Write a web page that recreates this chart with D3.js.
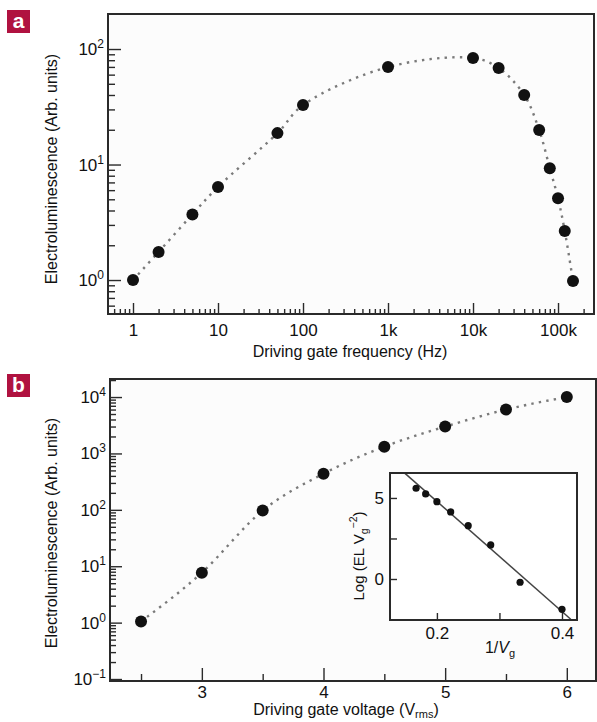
<!DOCTYPE html>
<html>
<head>
<meta charset="utf-8">
<script src="https://cdn.jsdelivr.net/npm/d3@7"></script>
<style>
  body { margin: 0; background: #fff; }
  svg { display: block; font-family: "Liberation Sans Narrow", "Arial Narrow", "Liberation Sans", Arial, sans-serif; }
</style>
</head>
<body>
<div id="chart"></div>
<script>
// ---- data ----
// panel a: EL vs driving frequency
const freqHz = [1, 2, 5, 10, 50, 100, 1000, 10000, 20000, 40000, 60000, 80000, 100000, 120000, 150000];
const elFreq = [1.0, 1.75, 3.7, 6.4, 18.7, 32.7, 69.8, 83.6, 68.5, 40, 19.9, 9.3, 5.1, 2.66, 0.98];
const freqTicks = [1, 10, 100, 1000, 10000, 100000];
const freqTickLabels = ["1", "10", "100", "1k", "10k", "100k"];
const elFreqExp = [0, 1, 2];

// panel b: EL vs driving voltage
const voltage = [2.5, 3, 3.5, 4, 4.5, 5, 5.5, 6];
const elVolt = [1.05, 7.7, 97, 437, 1320, 2990, 6000, 10000];
const voltTicks = [3, 4, 5, 6];
const voltMinor = [2.5, 3.5, 4.5, 5.5];
const elVoltExp = [-1, 0, 1, 2, 3, 4];

// inset: log(EL Vg^-2) vs 1/Vg
const invV = [0.1667, 0.182, 0.2, 0.222, 0.25, 0.286, 0.333, 0.4];
const logELV = [5.6, 5.25, 4.77, 4.14, 3.29, 2.1, -0.2, -1.87];
const fitX = [0.149, 0.414];
const fitY = [6.52, -2.48];
const insetXTicks = [0.2, 0.3, 0.4];
const insetXLabels = ["0.2", "", "0.4"];
const insetYTicks = [0, 2.5, 5];
const insetYLabels = ["0", "", "5"];

const W = 597, H = 722;
const ink = "#2a2a2a";
const tickFont = 17, titleFont = 16;
const svg = d3.select("#chart").append("svg").attr("width", W).attr("height", H);

// log minor ticks (2..9 x decade) inside a domain
function logMinors(domain) {
  const out = [];
  for (let e = Math.floor(Math.log10(domain[0])) - 1; e <= Math.ceil(Math.log10(domain[1])); e++) {
    for (let m = 2; m <= 9; m++) {
      const v = m * Math.pow(10, e);
      if (v > domain[0] * 1.01 && v < domain[1] * 0.99) out.push(v);
    }
  }
  return out;
}

function panelTag(y, letter) {
  svg.append("rect").attr("x", 7).attr("y", y).attr("width", 23).attr("height", 23).attr("fill", "#b01240");
  svg.append("text").attr("x", 18.5).attr("y", y + 17.5).attr("text-anchor", "middle")
    .attr("fill", "#fff").attr("font-weight", "bold").attr("font-size", 21).text(letter);
}

function styleTicks(g) {
  g.select(".domain").remove();
  g.selectAll(".tick line").attr("stroke", ink).attr("stroke-width", 1.4);
  g.selectAll(".tick text").attr("fill", "#111").attr("font-size", tickFont);
}

// y axis labels as 10^n
function powLabels(g, exps, scale, xRight) {
  exps.forEach(e => {
    const t = g.append("text").attr("x", xRight).attr("y", scale(Math.pow(10, e)) + 6)
      .attr("text-anchor", "end").attr("fill", "#111").attr("font-size", tickFont);
    t.append("tspan").text("10");
    t.append("tspan").attr("dy", -7).attr("font-size", 12).text(e < 0 ? "\u2212" + (-e) : e);
  });
}

function dotted(path) {
  path.attr("fill", "none").attr("stroke", "#7a7a7a").attr("stroke-width", 2.4)
    .attr("stroke-dasharray", "2.4 5.2");
}

// ================= panel a =================
{
  const L = 108, R = 594, T = 14, B = 314;
  const x = d3.scaleLog().domain([0.508, 2.65e5]).range([L, R]);
  const y = d3.scaleLog().domain([0.508, 201]).range([B, T]);

  svg.append("rect").attr("x", L).attr("y", T).attr("width", R - L).attr("height", B - T).attr("fill", "#fcfcfc");

  svg.append("path").datum(freqHz.map((f, i) => [f, elFreq[i]]))
    .attr("d", d3.line().x(d => x(d[0])).y(d => y(d[1])).curve(d3.curveCatmullRom.alpha(0.5)))
    .call(dotted);

  svg.append("g").selectAll("circle").data(freqHz.map((f, i) => [f, elFreq[i]])).join("circle")
    .attr("cx", d => x(d[0])).attr("cy", d => y(d[1])).attr("r", 6).attr("fill", "#111");

  svg.append("g").attr("transform", `translate(0,${B})`)
    .call(d3.axisBottom(x).tickValues(freqTicks).tickSize(-11).tickPadding(10)
      .tickFormat((d, i) => freqTickLabels[i]))
    .call(styleTicks);
  svg.append("g").attr("transform", `translate(0,${B})`)
    .call(d3.axisBottom(x).tickValues(logMinors(x.domain())).tickSize(-5).tickFormat(""))
    .call(styleTicks);

  svg.append("g").attr("transform", `translate(${L},0)`)
    .call(d3.axisLeft(y).tickValues(elFreqExp.map(e => Math.pow(10, e))).tickSize(-13).tickFormat(""))
    .call(styleTicks);
  svg.append("g").attr("transform", `translate(${L},0)`)
    .call(d3.axisLeft(y).tickValues(logMinors(y.domain())).tickSize(-7).tickFormat(""))
    .call(styleTicks);
  powLabels(svg.append("g"), elFreqExp, y, 104);

  svg.append("rect").attr("x", L).attr("y", T).attr("width", R - L).attr("height", B - T)
    .attr("fill", "none").attr("stroke", ink).attr("stroke-width", 2);

  svg.append("text").attr("x", 350).attr("y", 357).attr("text-anchor", "middle")
    .attr("font-size", titleFont).attr("fill", "#111").text("Driving gate frequency (Hz)");
  svg.append("text").attr("transform", "translate(57,169) rotate(-90)").attr("text-anchor", "middle")
    .attr("font-size", titleFont).attr("fill", "#111").text("Electroluminescence (Arb. units)");
  panelTag(10, "a");
}

// ================= panel b =================
{
  const L = 110, R = 596, T = 379, B = 681;
  const x = d3.scaleLinear().domain([2.245, 6.24]).range([L, R]);
  const y = d3.scaleLog().domain([Math.pow(10, -1.035), Math.pow(10, 4.32)]).range([B, T]);

  svg.append("rect").attr("x", L).attr("y", T).attr("width", R - L).attr("height", B - T).attr("fill", "#fcfcfc");

  svg.append("path").datum(voltage.map((v, i) => [v, elVolt[i]]))
    .attr("d", d3.line().x(d => x(d[0])).y(d => y(d[1])).curve(d3.curveMonotoneX))
    .call(dotted);

  svg.append("g").selectAll("circle").data(voltage.map((v, i) => [v, elVolt[i]])).join("circle")
    .attr("cx", d => x(d[0])).attr("cy", d => y(d[1])).attr("r", 6).attr("fill", "#111");

  svg.append("g").attr("transform", `translate(0,${B})`)
    .call(d3.axisBottom(x).tickValues(voltTicks).tickSize(-13).tickPadding(5).tickFormat(d3.format("d")))
    .call(styleTicks);
  svg.append("g").attr("transform", `translate(0,${B})`)
    .call(d3.axisBottom(x).tickValues(voltMinor).tickSize(-7).tickFormat(""))
    .call(styleTicks);

  svg.append("g").attr("transform", `translate(${L},0)`)
    .call(d3.axisLeft(y).tickValues(elVoltExp.map(e => Math.pow(10, e))).tickSize(-12).tickFormat(""))
    .call(styleTicks);
  svg.append("g").attr("transform", `translate(${L},0)`)
    .call(d3.axisLeft(y).tickValues(logMinors(y.domain())).tickSize(-6).tickFormat(""))
    .call(styleTicks);
  powLabels(svg.append("g"), elVoltExp, y, 106);

  svg.append("rect").attr("x", L).attr("y", T).attr("width", R - L).attr("height", B - T)
    .attr("fill", "none").attr("stroke", ink).attr("stroke-width", 2);

  const xl = svg.append("text").attr("x", 346).attr("y", 715).attr("text-anchor", "middle")
    .attr("font-size", titleFont).attr("fill", "#111");
  xl.append("tspan").text("Driving gate voltage (V");
  xl.append("tspan").attr("dy", 3).attr("font-size", 11).text("rms");
  xl.append("tspan").attr("dy", -3).text(")");
  svg.append("text").attr("transform", "translate(57,533) rotate(-90)").attr("text-anchor", "middle")
    .attr("font-size", titleFont).attr("fill", "#111").text("Electroluminescence (Arb. units)");
  panelTag(374, "b");
}

// ================= inset =================
{
  const L = 390, R = 577, T = 473, B = 620;
  const x = d3.scaleLinear().domain([0.125, 0.424]).range([L, R]);
  const y = d3.scaleLinear().domain([-2.53, 6.54]).range([B, T]);

  svg.append("rect").attr("x", L).attr("y", T).attr("width", R - L).attr("height", B - T).attr("fill", "#fff");
  svg.append("clipPath").attr("id", "insetClip").append("rect")
    .attr("x", L).attr("y", T).attr("width", R - L).attr("height", B - T);

  svg.append("line").attr("clip-path", "url(#insetClip)")
    .attr("x1", x(fitX[0])).attr("y1", y(fitY[0])).attr("x2", x(fitX[1])).attr("y2", y(fitY[1]))
    .attr("stroke", "#444").attr("stroke-width", 1.5);

  svg.append("g").selectAll("circle").data(invV.map((v, i) => [v, logELV[i]])).join("circle")
    .attr("cx", d => x(d[0])).attr("cy", d => y(d[1])).attr("r", 3.6).attr("fill", "#111");

  svg.append("g").attr("transform", `translate(0,${B})`)
    .call(d3.axisBottom(x).tickValues(insetXTicks).tickSize(-7).tickPadding(7)
      .tickFormat((d, i) => insetXLabels[i]))
    .call(styleTicks);
  svg.append("g").attr("transform", `translate(${L},0)`)
    .call(d3.axisLeft(y).tickValues(insetYTicks).tickSize(-7).tickPadding(6)
      .tickFormat((d, i) => insetYLabels[i]))
    .call(styleTicks);

  svg.append("rect").attr("x", L).attr("y", T).attr("width", R - L).attr("height", B - T)
    .attr("fill", "none").attr("stroke", ink).attr("stroke-width", 2);

  const xl = svg.append("text").attr("x", 500).attr("y", 653).attr("text-anchor", "middle")
    .attr("font-size", titleFont).attr("fill", "#111");
  xl.append("tspan").text("1/");
  xl.append("tspan").attr("font-style", "italic").text("V");
  xl.append("tspan").attr("dy", 4).attr("font-size", 11).text("g");

  const yl = svg.append("text").attr("transform", "translate(364,556) rotate(-90)").attr("text-anchor", "middle")
    .attr("font-size", 15).attr("fill", "#111");
  yl.append("tspan").text("Log (EL V");
  yl.append("tspan").attr("dy", 4).attr("font-size", 10.5).text("g");
  yl.append("tspan").attr("dy", -11).attr("font-size", 10.5).text("\u22122");
  yl.append("tspan").attr("dy", 7).text(")");
}
</script>
</body>
</html>
